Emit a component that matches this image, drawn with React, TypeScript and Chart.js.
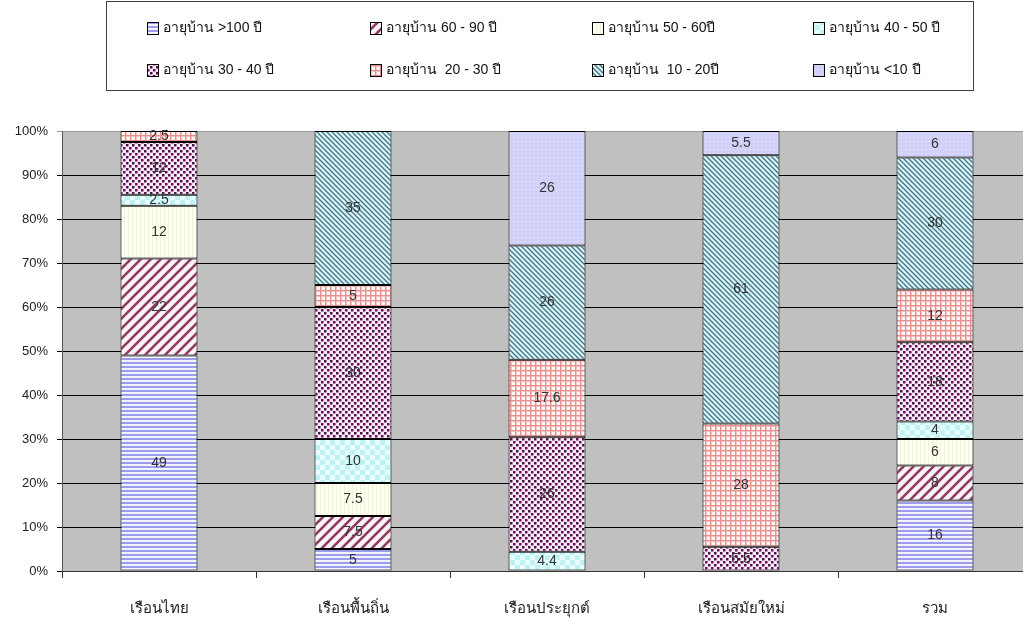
import React, { useEffect, useRef } from "react";
import { Chart, registerables } from "chart.js";

Chart.register(...registerables);

const categories = ["เรือนไทย", "เรือนพื้นถิ่น", "เรือนประยุกต์", "เรือนสมัยใหม่", "รวม"];
const seriesLabels = [
  "อายุบ้าน >100 ปี",
  "อายุบ้าน 60 - 90 ปี",
  "อายุบ้าน 50 - 60ปี",
  "อายุบ้าน 40 - 50 ปี",
  "อายุบ้าน 30 - 40 ปี",
  "อายุบ้าน  20 - 30 ปี",
  "อายุบ้าน  10 - 20ปี",
  "อายุบ้าน <10 ปี",
];
const age100 = [49, 5, 0, 0, 16];
const age60_90 = [22, 7.5, 0, 0, 8];
const age50_60 = [12, 7.5, 0, 0, 6];
const age40_50 = [2.5, 10, 4.4, 0, 4];
const age30_40 = [12, 30, 26, 5.5, 18];
const age20_30 = [2.5, 5, 17.6, 28, 12];
const age10_20 = [0, 35, 26, 61, 30];
const ageLt10 = [0, 0, 26, 5.5, 6];
const yTicks = [0, 10, 20, 30, 40, 50, 60, 70, 80, 90, 100];

const FONT = '"Liberation Sans", "Noto Sans", "DejaVu Sans", sans-serif';

function tile(w: number, h: number, draw: (c: CanvasRenderingContext2D) => void): CanvasPattern {
  const cv = document.createElement("canvas");
  cv.width = w;
  cv.height = h;
  const c = cv.getContext("2d")!;
  draw(c);
  return document.createElement("canvas").getContext("2d")!.createPattern(cv, "repeat")!;
}

function makePatterns(): CanvasPattern[] {
  const hStripes = tile(1, 4, (c) => {
    c.fillStyle = "#f4f4ff";
    c.fillRect(0, 0, 1, 4);
    c.fillStyle = "#9c9cec";
    c.fillRect(0, 2, 1, 2);
  });
  const diagUp = tile(10, 10, (c) => {
    c.fillStyle = "#fbf2f6";
    c.fillRect(0, 0, 10, 10);
    c.strokeStyle = "#8e3a62";
    c.lineWidth = 2.6;
    c.beginPath();
    c.moveTo(-2, 12);
    c.lineTo(12, -2);
    c.moveTo(-7, 7);
    c.lineTo(7, -7);
    c.moveTo(3, 17);
    c.lineTo(17, 3);
    c.stroke();
  });
  const yellow = tile(4, 1, (c) => {
    c.fillStyle = "#fffff0";
    c.fillRect(0, 0, 4, 1);
    c.fillStyle = "#f2f2dc";
    c.fillRect(0, 0, 1, 1);
  });
  const checker = tile(10, 10, (c) => {
    c.fillStyle = "#e8ffff";
    c.fillRect(0, 0, 10, 10);
    c.fillStyle = "#bff2f2";
    c.fillRect(0, 0, 5, 5);
    c.fillRect(5, 5, 5, 5);
  });
  const dots = tile(6, 6, (c) => {
    c.fillStyle = "#f8ecf8";
    c.fillRect(0, 0, 6, 6);
    c.fillStyle = "#4a1244";
    c.fillRect(0, 0, 2.5, 2.5);
    c.fillStyle = "#6e0a60";
    c.fillRect(3, 3, 2.5, 2.5);
  });
  const grid = tile(5, 5, (c) => {
    c.fillStyle = "#fff6f6";
    c.fillRect(0, 0, 5, 5);
    c.fillStyle = "#f4c4c4";
    c.fillRect(0, 1, 5, 1);
    c.fillRect(1, 0, 1, 5);
    c.fillStyle = "#e89090";
    c.fillRect(0, 0, 5, 1);
    c.fillRect(0, 0, 1, 5);
  });
  const diagDown = tile(5, 5, (c) => {
    c.fillStyle = "#d8f4f4";
    c.fillRect(0, 0, 5, 5);
    c.strokeStyle = "#46748a";
    c.lineWidth = 1.3;
    c.beginPath();
    c.moveTo(-1, -1);
    c.lineTo(6, 6);
    c.moveTo(-6, -1);
    c.lineTo(1, 6);
    c.moveTo(4, -1);
    c.lineTo(11, 6);
    c.stroke();
  });
  const lavender = tile(4, 4, (c) => {
    c.fillStyle = "#d0d0f8";
    c.fillRect(0, 0, 4, 4);
    c.fillStyle = "#ececff";
    c.fillRect(1, 1, 1, 1);
  });
  return [hStripes, diagUp, yellow, checker, dots, grid, diagDown, lavender];
}

export default function App() {
  const ref = useRef<HTMLCanvasElement>(null);

  useEffect(() => {
    if (!ref.current) return;
    const patterns = makePatterns();
    const seriesData = [age100, age60_90, age50_60, age40_50, age30_40, age20_30, age10_20, ageLt10];

    const bgPlugin = {
      id: "bg",
      beforeDraw(chart: any) {
        const { ctx, chartArea } = chart;
        ctx.save();
        ctx.fillStyle = "#ffffff";
        ctx.fillRect(0, 0, chart.width, chart.height);
        ctx.fillStyle = "#c0c0c0";
        ctx.fillRect(chartArea.left, chartArea.top, chart.width - chartArea.left, chartArea.bottom - chartArea.top);
        ctx.restore();
      },
    };

    const labelPlugin = {
      id: "segLabels",
      afterDatasetsDraw(chart: any) {
        const ctx = chart.ctx;
        ctx.save();
        ctx.font = `14px ${FONT}`;
        ctx.fillStyle = "#333333";
        ctx.textAlign = "center";
        ctx.textBaseline = "middle";
        chart.data.datasets.forEach((ds: any, di: number) => {
          const meta = chart.getDatasetMeta(di);
          meta.data.forEach((el: any, i: number) => {
            const v = ds.data[i];
            if (!v) return;
            ctx.fillText(String(v), el.x, (el.y + el.base) / 2);
          });
        });
        ctx.restore();
      },
    };

    const legendPlugin = {
      id: "boxLegend",
      afterDraw(chart: any) {
        const ctx = chart.ctx;
        ctx.save();
        ctx.strokeStyle = "#404040";
        ctx.lineWidth = 1;
        ctx.strokeRect(106.5, 1.5, 867, 89);
        const cols = [147, 370, 592, 813];
        const rows = [28, 70];
        ctx.font = `14px ${FONT}`;
        ctx.textBaseline = "middle";
        ctx.textAlign = "left";
        seriesLabels.forEach((lab, i) => {
          const x = cols[i % 4];
          const y = rows[Math.floor(i / 4)];
          ctx.fillStyle = patterns[i];
          ctx.fillRect(x, y - 6, 11, 12);
          ctx.strokeStyle = "#000";
          ctx.strokeRect(x + 0.5, y - 5.5, 11, 12);
          ctx.fillStyle = "#111";
          ctx.fillText(lab, x + 16, y);
        });
        ctx.restore();
      },
    };

    const chart = new Chart(ref.current, {
      type: "bar",
      data: {
        labels: categories,
        datasets: seriesData.map((d, i) => ({
          label: seriesLabels[i],
          data: d,
          backgroundColor: patterns[i] as any,
          borderColor: "#000000",
          borderWidth: 1,
          borderSkipped: false,
          barPercentage: 0.397,
          categoryPercentage: 1,
        })),
      },
      options: {
        animation: false,
        responsive: false,
        devicePixelRatio: 1,
        layout: { padding: { top: 131, left: 0, right: 0, bottom: 0 } },
        plugins: { legend: { display: false }, tooltip: { enabled: false } },
        scales: {
          x: {
            stacked: true,
            offset: true,
            afterFit: (s: any) => {
              s.height = 49;
            },
            grid: { display: true, drawOnChartArea: false, drawTicks: true, tickLength: 7, color: "#333", offset: true },
            border: { display: true, color: "#333" },
            ticks: { color: "#222", font: { size: 15, family: FONT }, padding: 22 },
          },
          y: {
            stacked: true,
            min: 0,
            max: 100,
            afterFit: (s: any) => {
              s.width = 62;
            },
            afterBuildTicks: (s: any) => {
              s.ticks = yTicks.map((v) => ({ value: v }));
            },
            grid: {
              color: (c: any) => (c.tick && c.tick.value === 100 ? "#9a9a9a" : "#000"),
              tickLength: 5,
              drawTicks: true,
            },
            border: { display: true, color: "#555" },
            ticks: {
              color: "#222",
              font: { size: 13, family: FONT },
              padding: 9,
              callback: (v: any) => v + "%",
            },
          },
        },
      },
      plugins: [bgPlugin, labelPlugin, legendPlugin],
    });
    return () => chart.destroy();
  }, []);

  return (
    <div style={{ position: "fixed", left: 0, top: 0, width: 1032, height: 620, overflow: "hidden" }}>
      <canvas ref={ref} width={1032} height={620} style={{ display: "block" }} />
    </div>
  );
}
